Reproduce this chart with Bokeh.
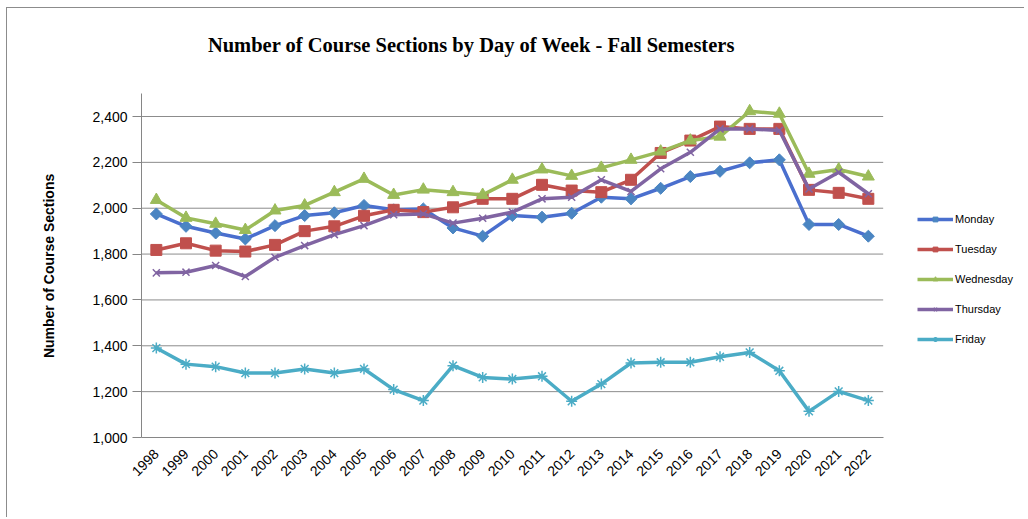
from bokeh.plotting import figure
from bokeh.models import (Range1d, FixedTicker, NumeralTickFormatter,
                          Legend, LegendItem, Label)
from bokeh.embed import file_html
from bokeh.resources import INLINE
import math

years = [str(y) for y in range(1998, 2023)]
monday = [1975, 1921, 1892, 1866, 1924, 1968, 1980, 2012, 1993, 1997, 1914, 1878,
          1968, 1961, 1978, 2048, 2041, 2087, 2138, 2161, 2198, 2211, 1929, 1929, 1878]
tuesday = [1818, 1847, 1815, 1811, 1840, 1900, 1921, 1967, 1993, 1983, 2004, 2041,
           2041, 2102, 2077, 2070, 2124, 2241, 2295, 2356, 2346, 2346, 2080, 2067, 2041]
wednesday = [2036, 1958, 1932, 1905, 1990, 2012, 2070, 2128, 2058, 2081, 2070, 2058,
             2124, 2169, 2141, 2176, 2211, 2247, 2295, 2312, 2423, 2412, 2150, 2169, 2138]
thursday = [1718, 1721, 1750, 1702, 1786, 1837, 1885, 1924, 1972, 1975, 1935, 1956,
            1983, 2041, 2048, 2124, 2073, 2172, 2244, 2346, 2346, 2339, 2084, 2157, 2063]
friday = [1390, 1320, 1309, 1281, 1281, 1299, 1281, 1299, 1209, 1161, 1313, 1262,
          1255, 1267, 1158, 1233, 1325, 1328, 1328, 1352, 1371, 1291, 1114, 1201, 1161]
y_ticks = [1000, 1200, 1400, 1600, 1800, 2000, 2200, 2400]
y_min, y_max = 1000, 2500

n = len(years)
xs = list(range(n))
x_lo, x_hi = -0.5, n - 0.5

# frame extends right (legend) and up (title); axis box limited to the data span
p = figure(width=1018, height=510, output_backend="svg", toolbar_location=None,
           x_range=Range1d(x_lo, x_lo + 877 / 29.667),
           y_range=Range1d(y_min, y_min + 417 * 1400 / 321),
           min_border_left=134, min_border_top=12, min_border_right=7, min_border_bottom=81,
           styles={"border-top": "1px solid #8c8c8c", "border-left": "1px solid #8c8c8c",
                   "margin-left": "6px", "margin-top": "7px"})
p.outline_line_color = None
p.background_fill_color = "white"
p.border_fill_color = "white"
p.xgrid.grid_line_color = None
p.ygrid.grid_line_color = None

# horizontal gridlines over the data span
grid_vals = [v for v in y_ticks if v > y_min]
p.segment(x0=[x_lo] * len(grid_vals), x1=[x_hi] * len(grid_vals),
          y0=grid_vals, y1=grid_vals, line_color="#8c8c8c", line_width=1)

p.yaxis.bounds = (y_min, y_max)
p.yaxis.ticker = FixedTicker(ticks=y_ticks)
p.yaxis.formatter = NumeralTickFormatter(format="0,0")
# trailing no-break spaces keep the label centred on the data span, not the taller frame
p.yaxis.axis_label = "Number of Course Sections" + "\u00a0" * 19
p.yaxis.axis_label_text_font = "Liberation Sans"
p.yaxis.axis_label_text_font_style = "bold"
p.yaxis.axis_label_text_font_size = "14px"
p.yaxis.axis_label_text_color = "black"
p.yaxis.axis_label_standoff = 32
p.yaxis.major_label_text_font = "Liberation Sans"
p.yaxis.major_label_text_font_size = "14px"
p.yaxis.major_label_text_color = "black"
p.yaxis.major_label_standoff = 5
p.yaxis.major_tick_out = 9
p.yaxis.major_tick_in = 0
p.yaxis.minor_tick_line_color = None
p.yaxis.axis_line_color = "#868686"
p.yaxis.major_tick_line_color = "#868686"

p.xaxis.bounds = (x_lo, x_hi)
p.xaxis.ticker = FixedTicker(ticks=xs)
p.xaxis.major_label_overrides = {i: y for i, y in zip(xs, years)}
p.xaxis.major_label_orientation = math.pi / 4
p.xaxis.major_label_text_font = "Liberation Sans"
p.xaxis.major_label_text_font_size = "14px"
p.xaxis.major_label_text_color = "black"
p.xaxis.major_label_standoff = 14
p.xaxis.major_tick_out = 0
p.xaxis.major_tick_in = 0
p.xaxis.minor_tick_line_color = None
p.xaxis.axis_line_color = "#868686"

series = [
    ("Monday", monday, "#4a6fce", "#4a85c2"),
    ("Tuesday", tuesday, "#c0504d", "#c0504d"),
    ("Wednesday", wednesday, "#9bbb59", "#9bbb59"),
    ("Thursday", thursday, "#8064a2", "#8064a2"),
    ("Friday", friday, "#4bacc6", "#4bacc6"),
]
items = []
for name, vals, lc, mc in series:
    ln = p.line(xs, vals, line_color=lc, line_width=3.5)
    if name == "Monday":
        mk = p.scatter(xs, vals, marker="square", angle=math.pi / 4, size=8.5,
                       fill_color=mc, line_color=mc)
    elif name == "Tuesday":
        mk = p.scatter(xs, vals, marker="square", size=11, fill_color=mc, line_color=mc)
    elif name == "Wednesday":
        mk = p.scatter(xs, vals, marker="triangle", size=12, fill_color=mc, line_color=mc)
    elif name == "Thursday":
        mk = p.scatter(xs, vals, marker="x", size=10, line_color=mc, line_width=1.5)
    else:
        mk = p.scatter(xs, vals, marker="asterisk", size=11, line_color=mc, line_width=1.5)
    items.append(LegendItem(label=name, renderers=[ln, mk]))

legend = Legend(items=items, location=(776, 92), orientation="vertical",
                glyph_width=36, glyph_height=12, label_height=12, spacing=18,
                padding=0, margin=0, label_standoff=2,
                label_text_font="Liberation Sans", label_text_font_size="11px",
                label_text_color="black",
                border_line_color=None, background_fill_alpha=0)
p.add_layout(legend, "center")

title = Label(x=330, y=393, x_units="screen", y_units="screen",
              text="Number of Course Sections by Day of Week - Fall Semesters",
              text_font="Liberation Serif", text_font_style="bold", text_font_size="20.5px",
              text_align="center", text_baseline="middle", text_color="black")
p.add_layout(title)

open("out.html", "w").write(file_html(p, INLINE))
